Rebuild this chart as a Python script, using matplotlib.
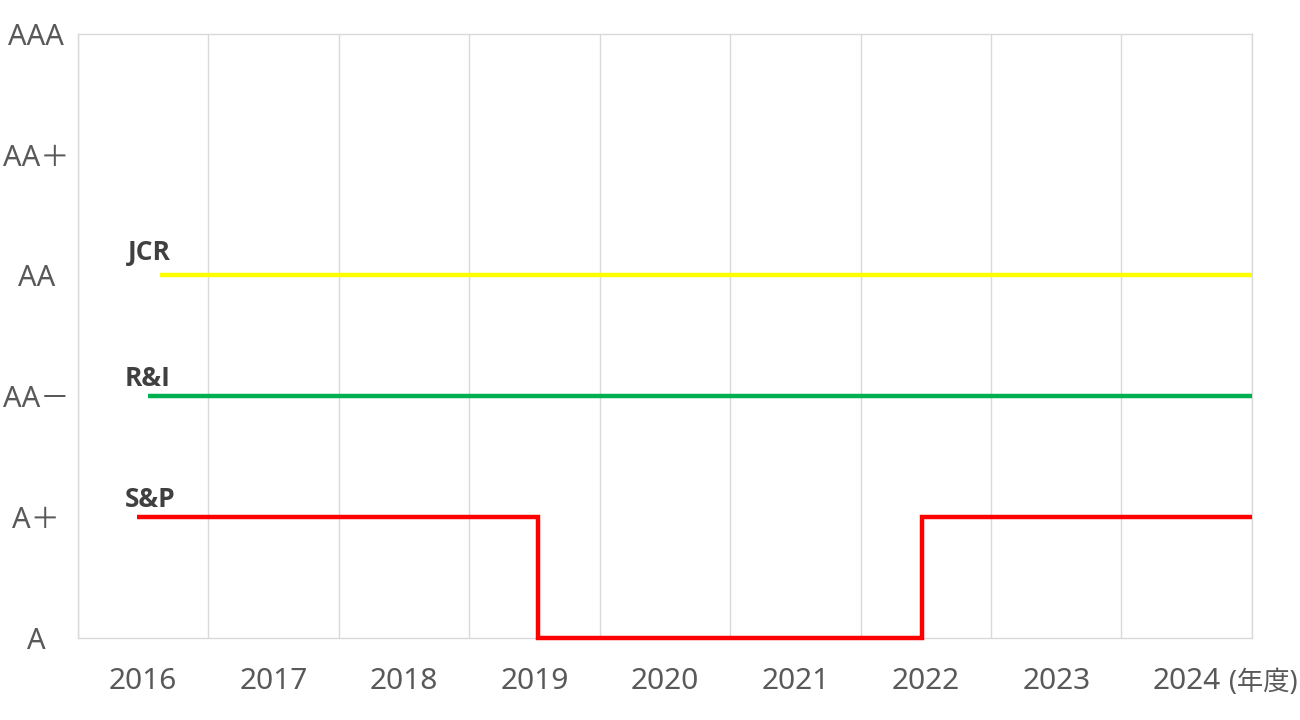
import matplotlib
matplotlib.use("Agg")
from matplotlib import pyplot as plt

plt.rcParams['font.family'] = ['Noto Sans', 'Noto Sans CJK JP', 'DejaVu Sans']

# fiscal years (one category cell each) and rating scale
years = ["2016", "2017", "2018", "2019", "2020", "2021", "2022", "2023", "2024"]
ratings = ["A", "A＋", "AA－", "AA", "AA＋", "AAA"]

# rating history, x in fiscal-year cells from the left edge
jcr_x = [0.63, 9.0]
jcr_y = ["AA", "AA"]
ri_x = [0.54, 9.0]
ri_y = ["AA－", "AA－"]
sp_x = [0.45, 3.53, 3.53, 6.47, 6.47, 9.0]
sp_y = ["A＋", "A＋", "A", "A", "A＋", "A＋"]

level = {r: i for i, r in enumerate(ratings)}

fig = plt.figure(figsize=(13, 7.2), dpi=100)
ax = fig.add_axes([0.06, 0.114, 0.903, 0.839])

grid_col = "#d9d9d9"
for i in range(len(years) + 1):
    ax.axvline(i, color=grid_col, lw=1, zorder=0)
for s in ax.spines.values():
    s.set_color(grid_col)
    s.set_linewidth(1)

line_kw = dict(lw=3.2, solid_capstyle="butt", solid_joinstyle="miter", clip_on=False, zorder=3)
ax.plot(jcr_x, [level[r] for r in jcr_y], color="#ffff00", **line_kw)
ax.plot(ri_x, [level[r] for r in ri_y], color="#00b050", **line_kw)
ax.plot(sp_x, [level[r] for r in sp_y], color="#ff0000", **line_kw)

# series names above the start of each line
lab_kw = dict(fontsize=19, fontweight="bold", color="#404040", va="center", ha="left",
              family=["Open Sans", "DejaVu Sans"])
ax.text(0.385, level["AA"] + 0.19, "JCR", **lab_kw)
ax.text(0.36, level["AA－"] + 0.145, "R&I", **lab_kw)
ax.text(0.36, level["A＋"] + 0.145, "S&P", **lab_kw)

ax.set_xlim(0, len(years))
ax.set_ylim(0, len(ratings) - 1)
ax.set_xticks([i + 0.5 for i in range(len(years))])
ax.set_xticklabels(years)
ax.set_yticks(range(len(ratings)))
ax.set_yticklabels(ratings)
ax.tick_params(axis="both", length=0, labelsize=21, labelcolor="#595959")
ax.tick_params(axis="x", labelsize=21.5, pad=21)
ax.tick_params(axis="y", pad=30)
for t in ax.get_yticklabels():
    t.set_horizontalalignment("center")

ax.text(9.09, -0.37, "(年度)", fontsize=19, color="#595959", ha="center", va="center",
        transform=ax.transData, clip_on=False)

fig.savefig("out.png")
